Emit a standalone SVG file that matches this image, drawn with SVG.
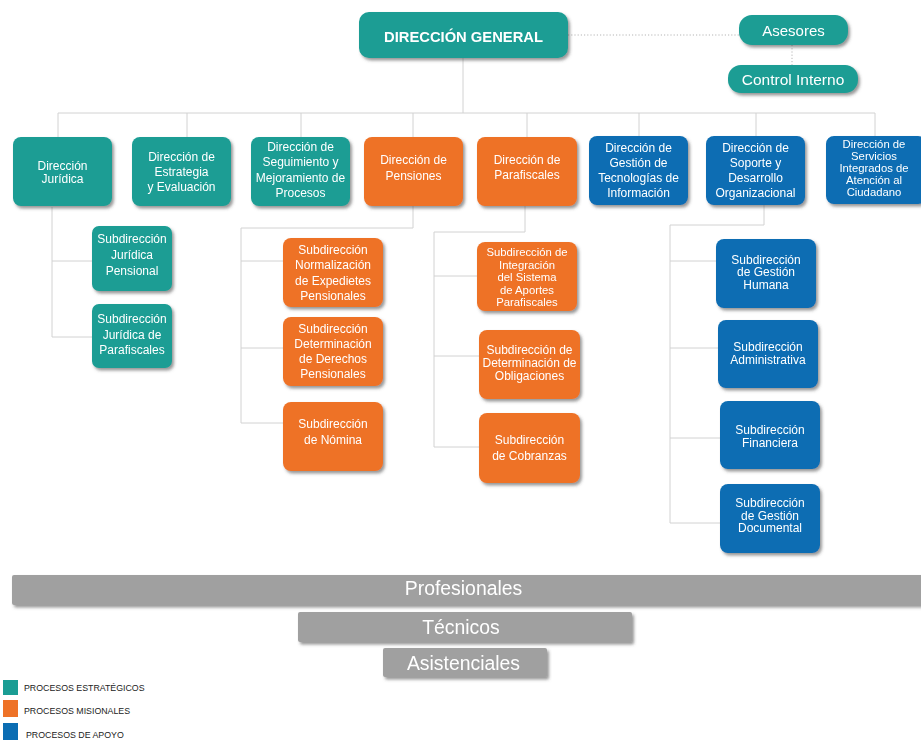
<svg xmlns="http://www.w3.org/2000/svg" width="921" height="740" viewBox="0 0 921 740">
<defs>
<filter id="sh" x="-10%" y="-10%" width="125%" height="130%">
<feDropShadow dx="2" dy="2.5" stdDeviation="1.6" flood-color="#444" flood-opacity="0.55"/>
</filter>
<style>
.t{fill:#1a9d94}
.o{fill:#ee7227}
.b{fill:#0b6db3}
.g{fill:#a0a0a0}
.n{filter:url(#sh)}
text{font-family:"Liberation Sans",Arial,sans-serif;fill:#fff;text-anchor:middle}
.s12{font-size:12px}
.s11{font-size:11.3px}
.bar{font-size:19.4px}
.leg{font-size:8.8px;fill:#222;text-anchor:start}
.ln{stroke:#d2d2d2;stroke-width:1;fill:none}
.dot{stroke:#b5b5b5;stroke-width:1;stroke-dasharray:1.2 2;fill:none}
</style>
</defs>
<rect width="921" height="740" fill="#fff"/>

<g id="connectors">
<path class="ln" d="M463 58V113M58 113H875M58 113V137M187 113V137M301 113V137M413 113V137M527 113V137M639 113V137M756 113V137M875 113V137"/>
<path class="ln" d="M52 207V337M52 261H92M52 337H92"/>
<path class="ln" d="M413 206V228H241V423M241 261H283M241 348H283M241 423H283"/>
<path class="ln" d="M525 206V232H434V447M434 276H477M434 356H479M434 447H479"/>
<path class="ln" d="M764 205V225H670V523M670 261H716M670 348H718M670 438H720M670 523H720"/>
<path class="dot" d="M568 35H739M792 45V65"/>
</g>

<g id="direccion-general" class="n"><rect class="t" x="359" y="12" width="209" height="46" rx="10"/><text x="463.5" y="42" style="font-size:14.75px;font-weight:bold">DIRECCIÓN GENERAL</text></g>
<g id="asesores" class="n"><rect class="t" x="739" y="15" width="109" height="30" rx="13"/><text x="793.5" y="36" style="font-size:15px">Asesores</text></g>
<g id="control-interno" class="n"><rect class="t" x="728" y="65" width="130" height="28" rx="13"/><text x="793" y="84.5" style="font-size:15.5px">Control Interno</text></g>

<g id="dir-juridica" class="n"><rect class="t" x="13" y="137" width="99" height="69" rx="8"/><text class="s12"><tspan x="62.5" y="169.5">Dirección</tspan><tspan x="62.5" y="182.5">Jurídica</tspan></text></g>
<g id="dir-estrategia" class="n"><rect class="t" x="132" y="137" width="99" height="69" rx="8"/><text class="s12"><tspan x="181.5" y="161">Dirección de</tspan><tspan x="181.5" y="176">Estrategia</tspan><tspan x="181.5" y="191">y Evaluación</tspan></text></g>
<g id="dir-seguimiento" class="n"><rect class="t" x="251" y="137" width="99" height="69" rx="8"/><text class="s12"><tspan x="300.5" y="150.5">Dirección de</tspan><tspan x="300.5" y="166">Seguimiento y</tspan><tspan x="300.5" y="181.5">Mejoramiento de</tspan><tspan x="300.5" y="197">Procesos</tspan></text></g>
<g id="dir-pensiones" class="n"><rect class="o" x="364" y="137" width="99" height="69" rx="8"/><text class="s12"><tspan x="413.5" y="164">Dirección de</tspan><tspan x="413.5" y="180">Pensiones</tspan></text></g>
<g id="dir-parafiscales" class="n"><rect class="o" x="477" y="137" width="100" height="69" rx="8"/><text class="s12"><tspan x="527" y="164">Dirección de</tspan><tspan x="527" y="179">Parafiscales</tspan></text></g>
<g id="dir-tecnologias" class="n"><rect class="b" x="589" y="136" width="99" height="69" rx="8"/><text class="s12"><tspan x="638.5" y="152">Dirección de</tspan><tspan x="638.5" y="167">Gestión de</tspan><tspan x="638.5" y="182">Tecnologías de</tspan><tspan x="638.5" y="197">Información</tspan></text></g>
<g id="dir-soporte" class="n"><rect class="b" x="706" y="136" width="99" height="69" rx="8"/><text class="s12"><tspan x="755.5" y="152">Dirección de</tspan><tspan x="755.5" y="167">Soporte y</tspan><tspan x="755.5" y="182">Desarrollo</tspan><tspan x="755.5" y="197">Organizacional</tspan></text></g>
<g id="dir-servicios" class="n"><rect class="b" x="826" y="136" width="100" height="68" rx="8"/><text class="s11"><tspan x="874" y="148">Dirección de</tspan><tspan x="874" y="160">Servicios</tspan><tspan x="874" y="172">Integrados  de</tspan><tspan x="874" y="184">Atención al</tspan><tspan x="874" y="196">Ciudadano</tspan></text></g>

<g id="sub-juridica-pensional" class="n"><rect class="t" x="92" y="226" width="80" height="65" rx="7"/><text class="s12"><tspan x="132" y="243">Subdirección</tspan><tspan x="132" y="259">Jurídica</tspan><tspan x="132" y="275">Pensional</tspan></text></g>
<g id="sub-juridica-parafiscales" class="n"><rect class="t" x="92" y="304" width="80" height="64" rx="7"/><text class="s12"><tspan x="132" y="323">Subdirección</tspan><tspan x="132" y="339">Jurídica de</tspan><tspan x="132" y="354">Parafiscales</tspan></text></g>

<g id="sub-normalizacion" class="n"><rect class="o" x="283" y="238" width="100" height="69" rx="8"/><text class="s12"><tspan x="333" y="254">Subdirección</tspan><tspan x="333" y="269">Normalización</tspan><tspan x="333" y="284.5">de Expedietes</tspan><tspan x="333" y="300">Pensionales</tspan></text></g>
<g id="sub-derechos" class="n"><rect class="o" x="283" y="317" width="100" height="69" rx="8"/><text class="s12"><tspan x="333" y="333">Subdirección</tspan><tspan x="333" y="348">Determinación</tspan><tspan x="333" y="363">de Derechos</tspan><tspan x="333" y="378">Pensionales</tspan></text></g>
<g id="sub-nomina" class="n"><rect class="o" x="283" y="402" width="100" height="69" rx="8"/><text class="s12"><tspan x="333" y="428">Subdirección</tspan><tspan x="333" y="443.5">de Nómina</tspan></text></g>

<g id="sub-integracion" class="n"><rect class="o" x="477" y="242" width="100" height="69" rx="8"/><text class="s11"><tspan x="527" y="256">Subdirección de</tspan><tspan x="527" y="268.5">Integración</tspan><tspan x="527" y="281">del Sistema</tspan><tspan x="527" y="293.5">de Aportes</tspan><tspan x="527" y="306">Parafiscales</tspan></text></g>
<g id="sub-obligaciones" class="n"><rect class="o" x="479" y="330" width="101" height="69" rx="8"/><text class="s12"><tspan x="529.5" y="354">Subdirección de</tspan><tspan x="529.5" y="367">Determinación de</tspan><tspan x="529.5" y="380">Obligaciones</tspan></text></g>
<g id="sub-cobranzas" class="n"><rect class="o" x="479" y="413" width="101" height="70" rx="8"/><text class="s12"><tspan x="529.5" y="444">Subdirección</tspan><tspan x="529.5" y="460">de Cobranzas</tspan></text></g>

<g id="sub-gestion-humana" class="n"><rect class="b" x="716" y="239" width="100" height="69" rx="8"/><text class="s12"><tspan x="766" y="263.5">Subdirección</tspan><tspan x="766" y="276">de Gestión</tspan><tspan x="766" y="288.5">Humana</tspan></text></g>
<g id="sub-administrativa" class="n"><rect class="b" x="718" y="320" width="100" height="68" rx="8"/><text class="s12"><tspan x="768" y="350.5">Subdirección</tspan><tspan x="768" y="363.5">Administrativa</tspan></text></g>
<g id="sub-financiera" class="n"><rect class="b" x="720" y="401" width="100" height="68" rx="8"/><text class="s12"><tspan x="770" y="434">Subdirección</tspan><tspan x="770" y="447">Financiera</tspan></text></g>
<g id="sub-documental" class="n"><rect class="b" x="720" y="484" width="100" height="69" rx="8"/><text class="s12"><tspan x="770" y="507">Subdirección</tspan><tspan x="770" y="519.5">de Gestión</tspan><tspan x="770" y="532">Documental</tspan></text></g>

<g id="profesionales" class="n"><rect class="g" x="12" y="575" width="915" height="30" rx="2"/><text class="bar" x="463.5" y="595">Profesionales</text></g>
<g id="tecnicos" class="n"><rect class="g" x="298" y="612" width="334" height="30" rx="2"/><text class="bar" x="461" y="634">Técnicos</text></g>
<g id="asistenciales" class="n"><rect class="g" x="383" y="648" width="164" height="29" rx="2"/><text class="bar" x="463.5" y="670">Asistenciales</text></g>

<g id="legend">
<rect class="t" x="3" y="680" width="15" height="15"/><text class="leg" x="24" y="690.5">PROCESOS ESTRATÉGICOS</text>
<rect class="o" x="3" y="700" width="15" height="17"/><text class="leg" x="24" y="714">PROCESOS MISIONALES</text>
<rect class="b" x="3" y="723" width="15" height="17"/><text class="leg" x="26" y="737.5">PROCESOS DE APOYO</text>
</g>
</svg>
